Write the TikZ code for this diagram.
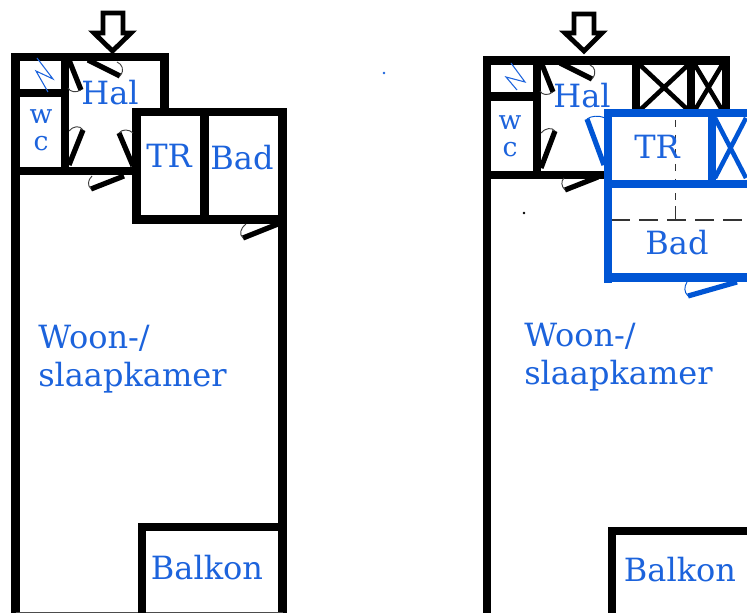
\documentclass[tikz,border=0pt]{standalone}
\usepackage{fontspec}
\setmainfont{DejaVu Serif}
\definecolor{planblue}{HTML}{1C63DC}
\definecolor{wallblue}{HTML}{0055D4}
\tikzset{
  wall/.style={line width=6.2pt,line cap=rect,line join=miter},
  thinwall/.style={line width=3.4pt},
  doorleaf/.style={line width=3.9pt},
  doorarc/.style={line width=0.7pt,black!75},
  entry/.style={line width=3.6pt,line join=miter,fill=white},
  label/.style={text=planblue,font=\fontsize{24}{24}\selectfont,inner sep=0pt},
  leftlabel/.style={label,anchor=west},
  wclabel/.style={label,font=\fontsize{20}{20}\selectfont},
  bolt/.style={planblue,line width=0.8pt},
  oldwall/.style={line width=1pt,black!80}
}
\begin{document}
\begin{tikzpicture}[x=0.75pt,y=-0.75pt]
\useasboundingbox (0,0) rectangle (747,613);

% Left plan: outer walls
\draw[wall] (15.5,613) -- (15.5,57) -- (164.5,57) -- (164.5,112) -- (282.5,112) -- (282.5,613);
\draw[line width=0.8pt,black!70] (15.5,612.4) -- (282.5,612.4);
% Bathroom block
\draw[wall] (136.5,112) rectangle (282.5,219.5);
\draw[wall] (204.5,112) -- (204.5,219.5);
% WC walls
\draw[wall] (15.5,93) -- (65,93);
\draw[wall] (65,57) -- (65,171);
\draw[wall] (15.5,171) -- (136.5,171);
% Balcony
\draw[wall] (142,613) -- (142,527) -- (282.5,527);
% Entrance arrow
\draw[entry] (103,13) -- (123,13) -- (123,33) -- (131,33) -- (112.5,51) -- (94,33) -- (103,33) -- cycle;
% Doors
\draw[doorleaf] (88,60) -- (120,76);
\draw[doorarc] (120,76) .. controls (125,70) and (122,64) .. (117,62);
\draw[doorleaf] (69,60) -- (81,90);
\draw[doorarc] (81,90) .. controls (76,93) and (70,92) .. (68,88);
\draw[doorleaf] (83,130) -- (69,165);
\draw[doorarc] (83,130) .. controls (80,125) and (73,126) .. (69,131);
\draw[doorleaf] (119,133) -- (133,166);
\draw[doorarc] (119,133) .. controls (122,129) and (129,129) .. (133,133);
\draw[doorleaf] (91,189) -- (124,176);
\draw[doorarc] (91,189) .. controls (87,185) and (88,180) .. (92,176);
\draw[doorleaf] (243,238) -- (278,224);
\draw[doorarc] (243,238) .. controls (239,234) and (240,229) .. (246,224);
% Meter cupboard
\draw[bolt] (37,58) -- (53,79) -- (36,71) -- (48,92);

% Left plan: labels
\node[label] (halleft) at (110,93) {Hal};
\node[wclabel] (wleft) at (41,117) {w};
\node[wclabel] (cleft) at (41,144) {c};
\node[label] (trleft) at (169,156) {TR};
\node[label] (badleft) at (242,158) {Bad};
\node[leftlabel] (woonleft) at (38,338) {Woon-/};
\node[leftlabel] (slaapleft) at (38,378) {slaapkamer};
\node[label] (balkonleft) at (207,568) {Balkon};

% Right plan: outer walls
\draw[wall] (487,613) -- (487,60.5) -- (726,60.5) -- (726,110);
\draw[wall] (636,60.5) -- (636,112);
\draw[wall] (691,60.5) -- (691,112);
% WC walls
\draw[wall] (487,96.5) -- (537,96.5);
\draw[wall] (537,60.5) -- (537,175);
\draw[wall] (487,175) -- (608,175);
% Storage crosses
\draw[thinwall] (640,65) -- (688,110) (688,65) -- (640,110);
\draw[thinwall] (695,65) -- (722,110) (722,65) -- (695,110);
% Balcony
\draw[wall] (612,613) -- (612,531) -- (747,531);
% Entrance arrow
\draw[entry] (574,14) -- (594,14) -- (594,33) -- (602,33) -- (584,51) -- (565,33) -- (574,33) -- cycle;
% Doors
\draw[doorleaf] (560,63) -- (592,79);
\draw[doorarc] (592,79) .. controls (597,73) and (595,67) .. (590,65);
\draw[doorleaf] (541,62) -- (553,92);
\draw[doorarc] (553,92) .. controls (548,96) and (542,95) .. (540,91);
\draw[doorleaf] (555,131) -- (541,168);
\draw[doorarc] (555,131) .. controls (552,127) and (545,128) .. (541,133);
\draw[doorleaf] (565,190) -- (598,177);
\draw[doorarc] (565,190) .. controls (561,186) and (561,181) .. (564,178);
% Meter cupboard
\draw[bolt] (511,63) -- (525,82) -- (506,77) -- (517,90);
% Old walls, dashed
\draw[oldwall,dash pattern=on 14pt off 7pt] (611,220) -- (747,220);
\draw[oldwall,dash pattern=on 5pt off 6pt] (675.5,120) -- (675.5,205);
\draw[oldwall] (675.5,206) -- (675.5,220);
% Blue rebuilt block
\draw[wall,wallblue] (608,113) -- (747,113);
\draw[wall,wallblue] (608,113) -- (608,279);
\draw[wall,wallblue] (608,184) -- (747,184);
\draw[wall,wallblue] (608,277.5) -- (747,277.5);
\draw[wall,wallblue] (712,113) -- (712,184);
\draw[thinwall,wallblue] (715,118) -- (746,178) (746,118) -- (715,178);
% Blue doors
\draw[doorleaf,wallblue] (587,119) -- (604,165);
\draw[doorarc,wallblue] (587,119) .. controls (591,116) and (598,115) .. (605,118);
\draw[doorleaf,wallblue] (688,296) -- (737,282);
\draw[doorarc,wallblue] (688,296) .. controls (684,292) and (684,287) .. (687,282);
% Specks
\fill (524,213) circle (1pt);
\fill[planblue] (384,73) circle (1pt);

% Right plan: labels
\node[label] (halright) at (582,96) {Hal};
\node[wclabel] (wright) at (510,123) {w};
\node[wclabel] (cright) at (510,150) {c};
\node[label] (trright) at (657,147) {TR};
\node[label] (badright) at (677,243) {Bad};
\node[leftlabel] (woonright) at (524,336) {Woon-/};
\node[leftlabel] (slaapright) at (524,376) {slaapkamer};
\node[label] (balkonright) at (680,570) {Balkon};
\end{tikzpicture}
\end{document}
